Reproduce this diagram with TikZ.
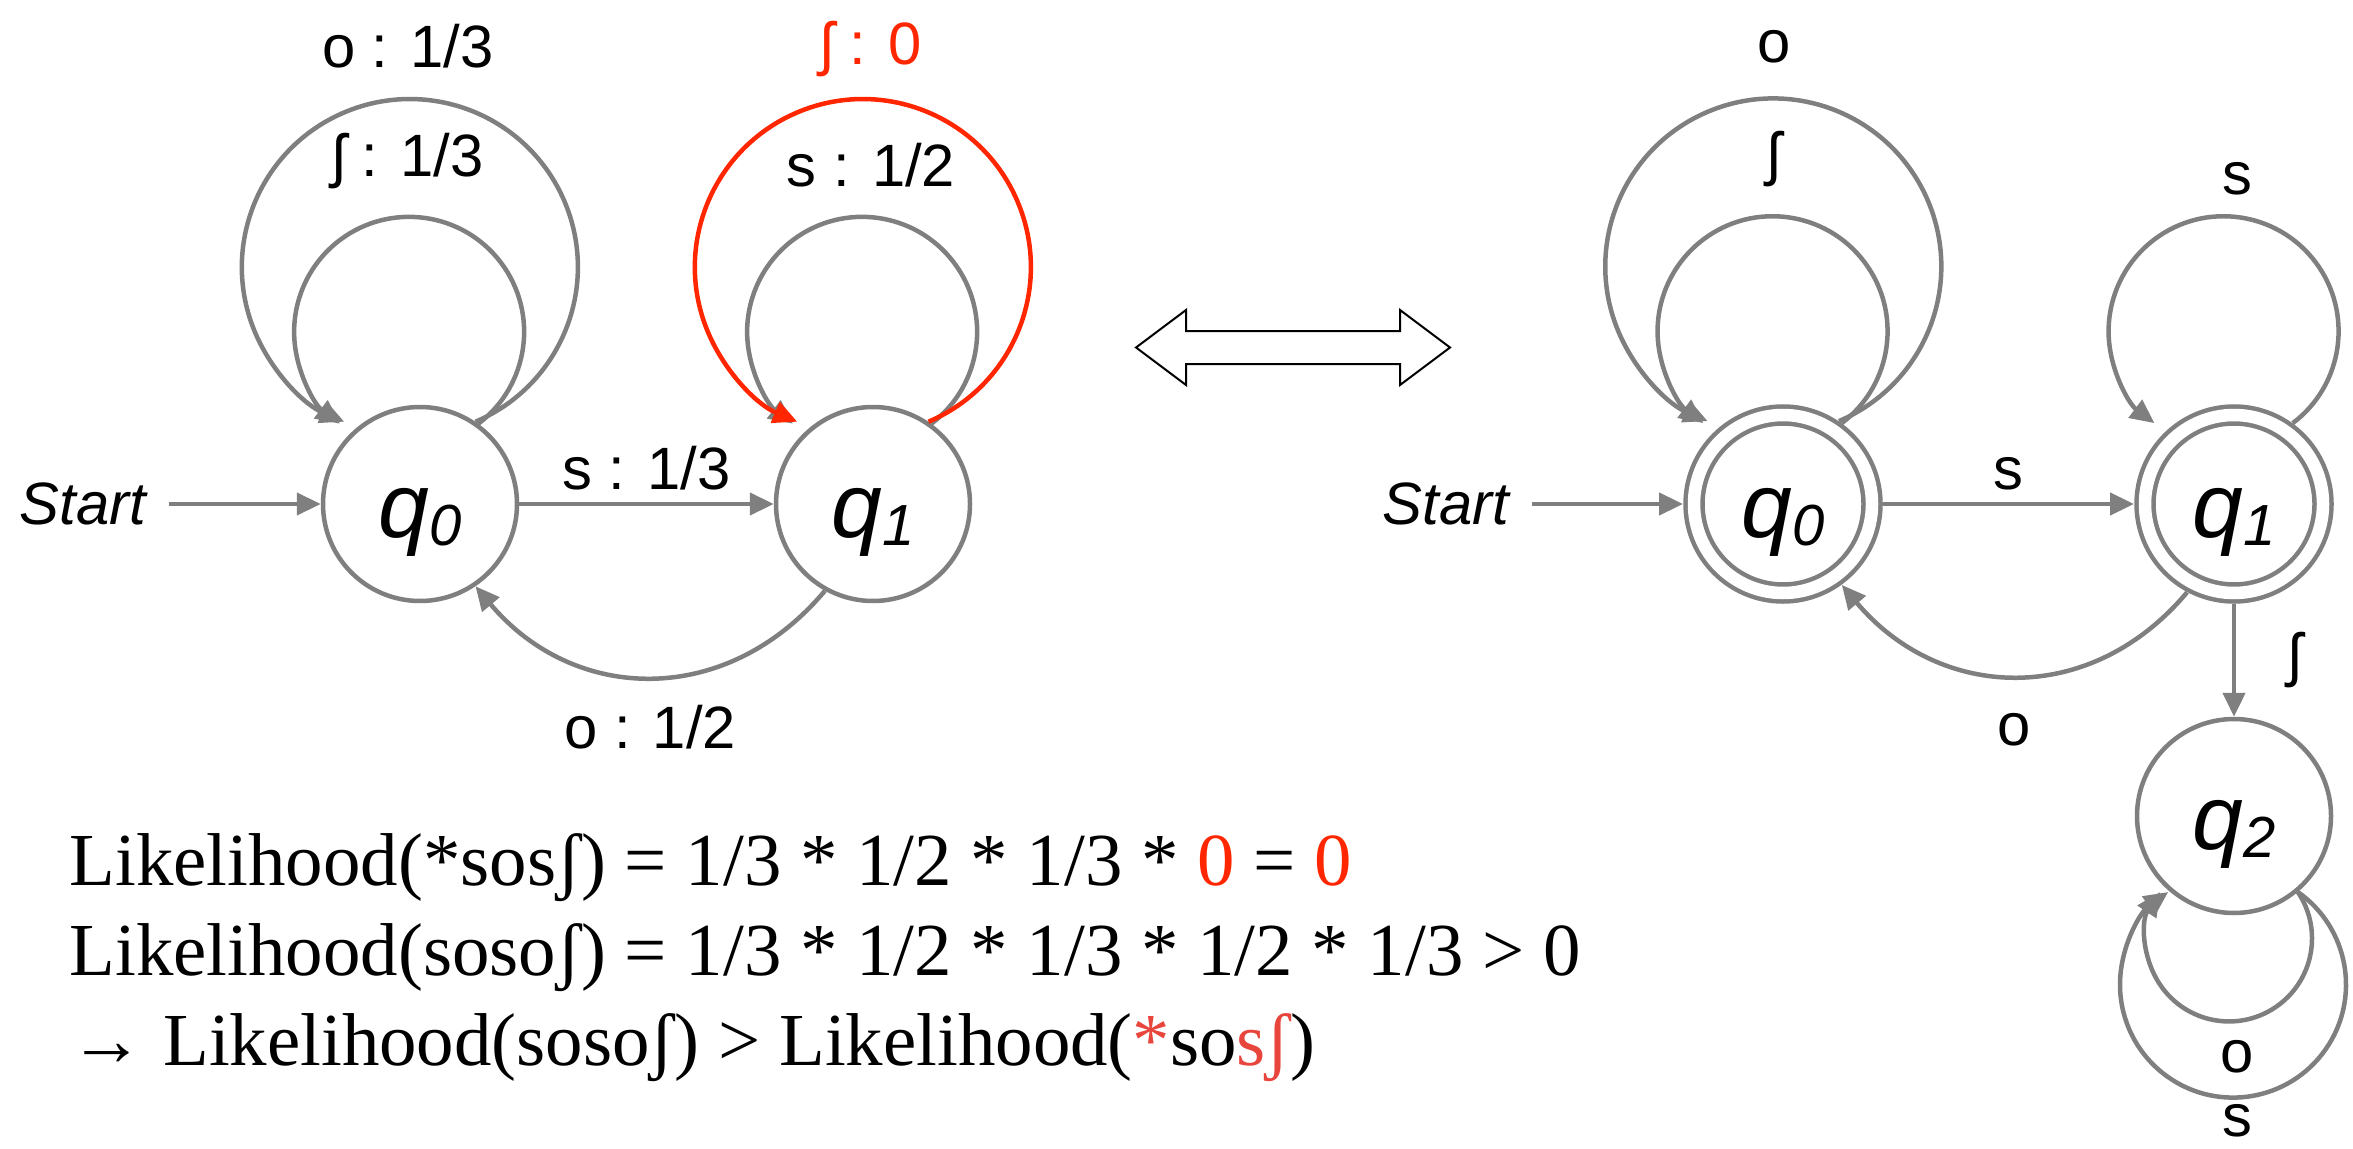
\documentclass[tikz,border=0pt]{standalone}
\usepackage{fontspec}
\setmainfont{Liberation Serif}
\setsansfont{Liberation Sans}
\usepackage{tikz}
\usepackage{xcolor}
\usetikzlibrary{arrows.meta,positioning}
\definecolor{StateGray}{HTML}{7F7F7F}
\definecolor{ZeroRed}{HTML}{FF2600}
\definecolor{SoftRed}{HTML}{E8453C}
\newcommand{\qname}[1]{{\sffamily\itshape\fontsize{26}{30}\selectfont q\raisebox{-0.08cm}{\fontsize{16.5}{20}\selectfont #1}}}
\tikzset{
    % Base state style
    statenode/.style={
        circle,
        draw=StateGray,
        fill=white,
        line width=0.045cm,
        minimum size=1.94cm,
        inner sep=0pt,
        text height=18.8pt,
        text depth=0pt,
        text=black
    },
    % Accepting state style (double ring)
    acceptnode/.style={
        statenode,
        double=white,
        double distance=0.125cm,
        minimum size=1.78cm,
        outer sep=0.11cm
    },
    % Transition arrow
    transarrow/.style={
        -{Triangle[length=0.24cm,width=0.22cm]},
        line width=0.045cm,
        draw=StateGray
    },
    % Zero weight transition
    redarrow/.style={
        transarrow,
        draw=ZeroRed
    },
    % Edge label
    edgelabel/.style={
        font=\sffamily\fontsize{17}{20}\selectfont,
        text=black
    },
    % Loop label (placed by its baseline)
    looplabel/.style={
        edgelabel,
        anchor=base
    },
    % Start label
    startlabel/.style={
        font=\sffamily\itshape\fontsize{17}{20}\selectfont,
        inner sep=0.22cm
    },
    % Likelihood line
    eqline/.style={
        anchor=base west,
        font=\fontsize{21.3}{25.6}\selectfont,
        inner sep=0pt
    },
    % Equivalence arrow
    equivarrow/.style={
        draw=black,
        fill=white,
        line width=0.02cm
    }
}

\begin{document}
\begin{tikzpicture}
    \useasboundingbox (0,0) rectangle (23.53,11.48);

    % Left automaton: weighted states
    \node[statenode] (q0L) at (4.20,6.44) {\qname{0}};
    \node[statenode] (q1L) at (8.73,6.44) {\qname{1}};
    \node[startlabel] (startL) at (0.83,6.44) {Start};

    % Left transitions
    \draw[transarrow] (startL) -- (q0L);
    \draw[transarrow] (q0L) -- node[edgelabel, above] {s : 1/3} (q1L);
    \draw[transarrow] (q1L.241) to[out=230, in=310, looseness=1.12] node[edgelabel, below=0.15cm] {o : 1/2} (q0L.304);
    \draw[transarrow] (q0L.54) arc[start angle=-53, end angle=233, radius=1.15cm];
    \draw[transarrow] (q0L.56) arc[start angle=-67, end angle=247, radius=1.68cm];
    \draw[transarrow] (q1L.54) arc[start angle=-53, end angle=233, radius=1.15cm];
    \draw[redarrow] (q1L.56) arc[start angle=-67, end angle=247, radius=1.68cm];

    % Left loop labels
    \node[looplabel] (lsh0L) at (4.08,9.71) {ʃ : 1/3};
    \node[looplabel] (lo0L) at (4.08,10.80) {o : 1/3};
    \node[looplabel] (ls1L) at (8.71,9.61) {s : 1/2};
    \node[looplabel, text=ZeroRed] (lsh1L) at (8.71,10.83) {ʃ : 0};

    % Equivalence arrow
    \draw[equivarrow] (11.36,8.005) -- (11.86,8.38) -- (11.86,8.17) -- (14.00,8.17) -- (14.00,8.38) -- (14.50,8.005)
        -- (14.00,7.63) -- (14.00,7.84) -- (11.86,7.84) -- (11.86,7.63) -- cycle;

    % Right automaton: accepting states
    \node[acceptnode] (q0R) at (17.83,6.44) {\qname{0}};
    \node[acceptnode] (q1R) at (22.34,6.44) {\qname{1}};
    \node[statenode] (q2R) at (22.34,3.32) {\qname{2}};
    \node[startlabel] (startR) at (14.46,6.44) {Start};

    % Right transitions
    \draw[transarrow] (startR) -- (q0R);
    \draw[transarrow] (q0R) -- node[edgelabel, above] {s} (q1R);
    \draw[transarrow] (q1R.242) to[out=230, in=310, looseness=1.12] node[edgelabel, below=0.24cm] {o} (q0R.306);
    \draw[transarrow] (q0R.54) arc[start angle=-53, end angle=233, radius=1.15cm];
    \draw[transarrow] (q0R.56) arc[start angle=-67, end angle=247, radius=1.68cm];
    \draw[transarrow] (q1R.54) arc[start angle=-53, end angle=233, radius=1.15cm];
    \draw[transarrow] (q1R) -- node[edgelabel, right=0.41cm] {ʃ} (q2R);
    \draw[transarrow] (q2R.-50) arc[start angle=34, end angle=-214, radius=0.83cm];
    \draw[transarrow] (q2R.-50.5) arc[start angle=55, end angle=-235, radius=1.13cm];

    % Right loop labels
    \node[looplabel] (lsh0R) at (17.74,9.73) {ʃ};
    \node[looplabel] (lo0R) at (17.74,10.85) {o};
    \node[looplabel] (ls1R) at (22.37,9.54) {s};
    \node[looplabel] (lo2R) at (22.37,0.76) {o};
    \node[looplabel, inner sep=0pt] (ls2R) at (22.37,0.12) {s};

    % Likelihood comparison
    \node[eqline] (lik1) at (0.69,2.63) {Likelihood(*sosʃ) = 1/3 * 1/2 * 1/3 * \textcolor{ZeroRed}{0} = \textcolor{ZeroRed}{0}};
    \node[eqline] (lik2) at (0.69,1.73) {Likelihood(sosoʃ) = 1/3 * 1/2 * 1/3 * 1/2 * 1/3 > 0};
    \node[eqline] (lik3) at (0.69,0.83) {→ Likelihood(sosoʃ) > Likelihood(\textcolor{SoftRed}{*}so\textcolor{SoftRed}{sʃ})};
\end{tikzpicture}
\end{document}
